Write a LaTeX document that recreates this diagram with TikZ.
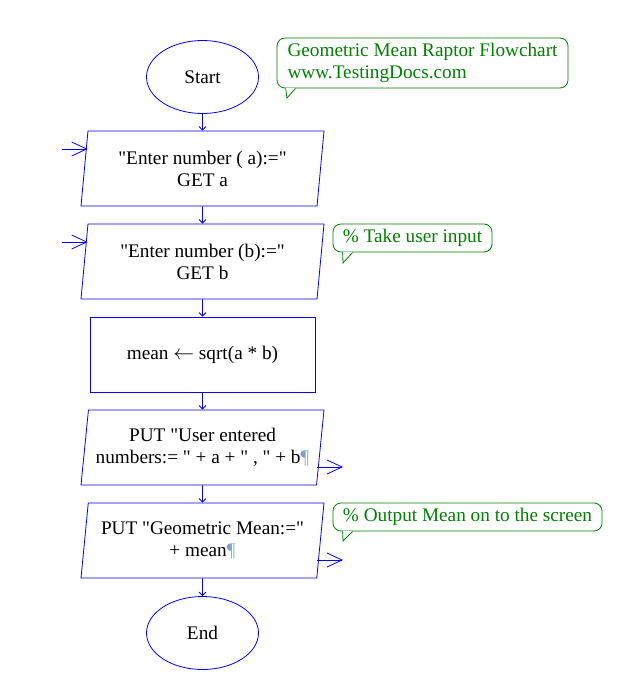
\documentclass[tikz,border=0pt]{standalone}
\usepackage{fontspec}
\setmainfont{Liberation Serif}[Ligatures=TeXOff]
\usepackage{tikz}
\usetikzlibrary{arrows.meta, shapes.geometric}

\definecolor{flowblue}{RGB}{0,0,255}
\definecolor{cmtgreen}{RGB}{0,128,0}
\definecolor{pilblue}{RGB}{130,160,205}
\newcommand{\pil}{\textcolor{pilblue}{¶}}

\begin{document}
\begin{tikzpicture}[x=1pt, y=-1pt,
  font=\fontsize{19.25}{22}\selectfont, line width=0.8pt,
  >={Straight Barb[length=3.5pt,width=7pt]},
  term/.style={ellipse, draw=flowblue, minimum width=112pt, minimum height=73pt, inner sep=0pt},
  io/.style={trapezium, trapezium left angle=80, trapezium right angle=100,
    trapezium stretches body, draw=flowblue, minimum width=243pt, minimum height=75pt,
    align=center, inner xsep=0pt, inner ysep=2pt},
  proc/.style={rectangle, draw=flowblue, minimum width=225pt, minimum height=75pt},
  flow/.style={->, draw=flowblue},
  side/.style={-{Straight Barb[length=15pt,width=14pt]}, draw=flowblue},
  cmt/.style={draw=cmtgreen, text=cmtgreen, rounded corners=8pt, align=left,
    minimum height=28pt, inner sep=0pt},
  tail/.style={draw=cmtgreen}]
  \useasboundingbox (0,0) rectangle (617,687);
  % Flowchart symbols
  \node[term] (start) at (202.5,77) {Start};
  \node[io] (geta) at (202.5,168.5) {"Enter number ( a):="\\GET a};
  \node[io] (getb) at (202.5,261.5) {"Enter number (b):="\\GET b};
  \node[proc] (calc) at (202.5,354.5) {mean $\leftarrow$ sqrt(a * b)};
  \node[io] (putnum) at (202.5,447.5) {PUT "User entered\\numbers:= " + a + " , " + b\pil};
  \node[io] (putmean) at (202.5,540.5) {PUT "Geometric Mean:="\\+ mean\pil};
  \node[term] (end) at (202.5,633) {End};
  % Main flow
  \draw[flow] (start) -- (geta);
  \draw[flow] (geta) -- (getb);
  \draw[flow] (getb) -- (calc);
  \draw[flow] (calc) -- (putnum);
  \draw[flow] (putnum) -- (putmean);
  \draw[flow] (putmean) -- (end);
  % Input / output arrows
  \coordinate (ina) at (62,149);
  \coordinate (inb) at (62,242);
  \coordinate (outnum) at (343,467);
  \coordinate (outmean) at (343,560);
  \draw[side] (ina) -- (ina -| geta.top left corner);
  \draw[side] (inb) -- (inb -| getb.top left corner);
  \draw[side] (putnum.bottom right corner |- outnum) -- (outnum);
  \draw[side] (putmean.bottom right corner |- outmean) -- (outmean);
  % Comments
  \node[cmt, minimum width=291pt, minimum height=50pt] (title) at (422.5,63)
    {Geometric Mean Raptor Flowchart\\www.TestingDocs.com};
  \node[cmt, minimum width=159pt] (cmtin) at (412.5,238) {\% Take user input};
  \node[cmt, minimum width=269pt] (cmtout) at (467.5,517) {\% Output Mean on to the screen};
  \coordinate (titletip) at (287,98);
  \coordinate (cmtintip) at (343,263);
  \coordinate (cmtouttip) at (343,541);
  \draw[white, line width=1.6pt] ([xshift=9pt]title.south west) -- ([xshift=19pt]title.south west);
  \draw[tail] ([xshift=9pt]title.south west) -- (titletip) -- ([xshift=19pt]title.south west);
  \draw[white, line width=1.6pt] ([xshift=10pt]cmtin.south west) -- ([xshift=20pt]cmtin.south west);
  \draw[tail] ([xshift=10pt]cmtin.south west) -- (cmtintip) -- ([xshift=20pt]cmtin.south west);
  \draw[white, line width=1.6pt] ([xshift=10pt]cmtout.south west) -- ([xshift=20pt]cmtout.south west);
  \draw[tail] ([xshift=10pt]cmtout.south west) -- (cmtouttip) -- ([xshift=20pt]cmtout.south west);
\end{tikzpicture}
\end{document}
